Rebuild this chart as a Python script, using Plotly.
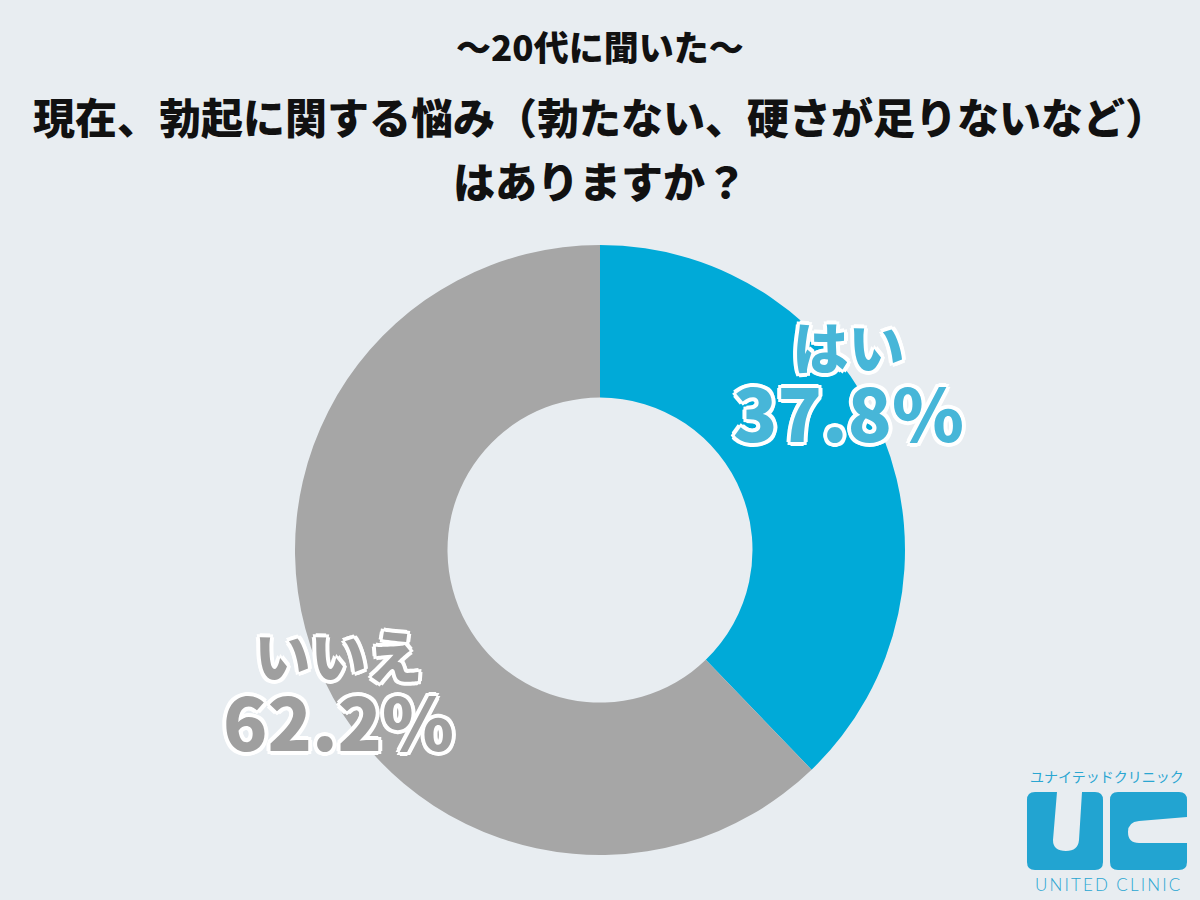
import plotly.graph_objects as go

labels = ["はい", "いいえ"]
values = [37.8, 62.2]
colors = ["#00aad8", "#a6a6a6"]
label_colors = ["#47b6d8", "#9f9f9f"]

title_sub = "〜20代に聞いた〜"
title_main_1 = "現在、勃起に関する悩み（勃たない、硬さが足りないなど）"
title_main_2 = "はありますか？"

W, H = 1200, 900
BG = "#e8edf1"


def px(x):
    return x / W


def py(y):
    return 1 - y / H


def path(cmds):
    out = []
    for c in cmds:
        if isinstance(c, str):
            out.append(c)
        else:
            out.append(f"{px(c[0]):.5f},{py(c[1]):.5f}")
    return " ".join(out)


fig = go.Figure()
fig.add_trace(go.Pie(
    labels=labels,
    values=values,
    hole=0.5,
    sort=False,
    direction="clockwise",
    rotation=0,
    marker=dict(colors=colors, line=dict(width=0)),
    textinfo="none",
    hoverinfo="label+percent",
    showlegend=False,
    domain=dict(x=[px(295), px(905)], y=[py(855), py(245)]),
))

outline = ", ".join(
    f"{dx}px {dy}px 0 white"
    for dx, dy in [(3, 0), (-3, 0), (0, 3), (0, -3), (2, 2), (-2, 2), (2, -2), (-2, -2),
                   (4, 0), (-4, 0), (0, 4), (0, -4), (3, 3), (-3, 3), (3, -3), (-3, -3)]
)


def ann(text, x, y, size, color, weight=900, family="Noto Sans CJK JP", shadow=None):
    f = dict(family=family, size=size, color=color, weight=weight)
    if shadow:
        f["shadow"] = shadow
    return dict(text=text, x=px(x), y=py(y), xref="paper", yref="paper", showarrow=False,
                xanchor="center", yanchor="middle", font=f)


def slice_label(name, value):
    return f"{name}<br><span style='font-size:73px'>{value}%</span>"


annotations = [
    ann(title_sub, 600, 45, 35, "#111111"),
    ann(title_main_1, 600, 116, 42, "#111111"),
    ann(title_main_2, 600, 180, 42, "#111111"),
    # slice labels
    ann(slice_label(labels[0], values[0]), 848, 383, 56, label_colors[0], shadow=outline),
    ann(slice_label(labels[1], values[1]), 339, 692, 56, label_colors[1], shadow=outline),
    # logo texts
    ann("ユナイテッドクリニック", 1107, 776, 14, "#2aa6d1", weight=400),
    ann("\u2009".join("UNITED") + "\u2002" + "\u2009".join("CLINIC"), 1107, 884, 17, "#2aa6d1",
        weight=300, family="Lato"),
]

logo_color = "#22a4d1"
u_path = path([
    "M", (1035, 792), "L", (1057, 792), "L", (1053, 840),
    "Q", (1053, 851), (1066, 851), "Q", (1078, 851), (1079, 840),
    "L", (1082, 792), "L", (1095, 792), "Q", (1103, 792), (1103, 800),
    "L", (1103, 862), "Q", (1103, 870), (1095, 870), "L", (1035, 870),
    "Q", (1027, 870), (1027, 862), "L", (1027, 800), "Q", (1027, 792), (1035, 792), "Z",
])
c_path = path([
    "M", (1118, 792), "L", (1179, 792), "Q", (1187, 792), (1187, 800),
    "L", (1187, 817), "L", (1139, 821), "Q", (1128, 822), (1128, 832),
    "Q", (1128, 843), (1139, 843), "L", (1187, 843), "L", (1187, 862),
    "Q", (1187, 870), (1179, 870), "L", (1118, 870), "Q", (1110, 870), (1110, 862),
    "L", (1110, 800), "Q", (1110, 792), (1118, 792), "Z",
])
shapes = [
    dict(type="path", path=u_path, xref="paper", yref="paper", fillcolor=logo_color, line=dict(width=0)),
    dict(type="path", path=c_path, xref="paper", yref="paper", fillcolor=logo_color, line=dict(width=0)),
]

fig.update_layout(
    width=W, height=H,
    margin=dict(l=0, r=0, t=0, b=0),
    paper_bgcolor=BG, plot_bgcolor=BG,
    annotations=annotations,
    shapes=shapes,
)

fig.write_html("out.html")
